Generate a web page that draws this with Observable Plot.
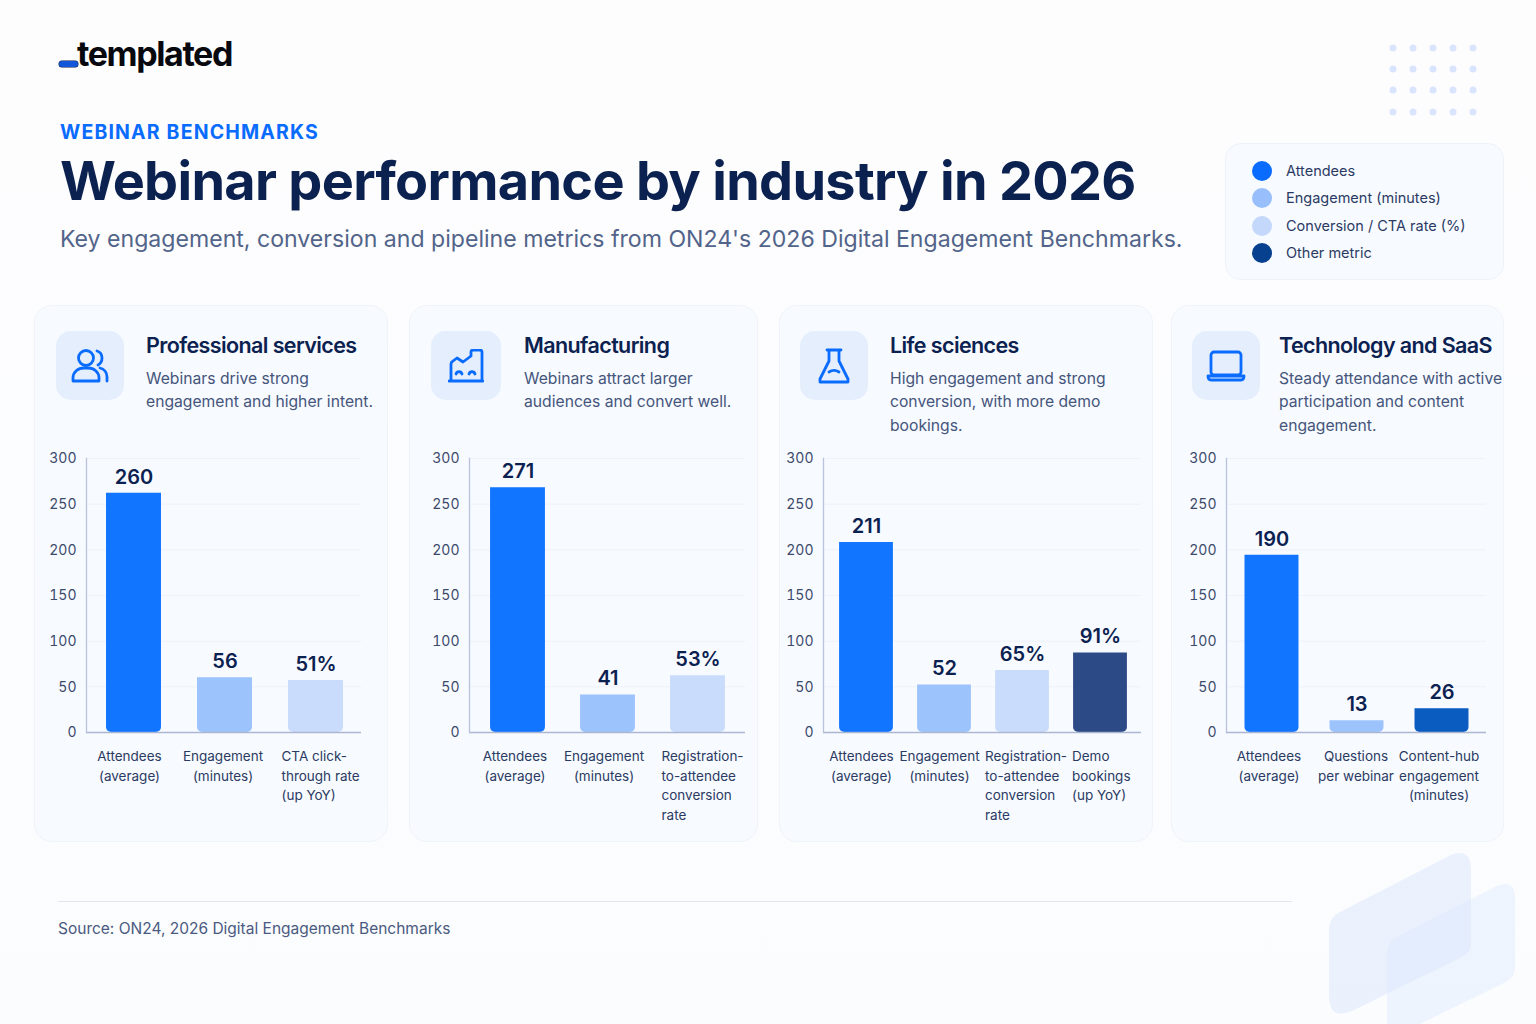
<!DOCTYPE html>
<html lang="en">
<head>
<meta charset="utf-8">
<title>Webinar performance by industry in 2026</title>
<script src="https://cdn.jsdelivr.net/npm/d3@7"></script>
<script src="https://cdn.jsdelivr.net/npm/@observablehq/plot@0.6"></script>
<style>
html,body{margin:0;padding:0;background:#fcfdfe;}
#page{position:relative;width:1536px;height:1024px;overflow:hidden;font-family:Inter,"Noto Sans",sans-serif;
  background:linear-gradient(180deg,#fdfdfe 0%,#fbfcfe 100%);}
#page>*{position:absolute;}
.logo{left:77px;top:33px;font-size:34px;line-height:42px;font-weight:700;letter-spacing:-1.4px;color:#07090f;}
.logobar{left:59px;top:61px;width:19px;height:6px;border-radius:3px;background:#1457d8;box-shadow:0 0 0 .5px #0a1a3c;}
.eyebrow{left:60px;top:120px;font-size:19.5px;line-height:25px;font-weight:700;letter-spacing:1.16px;color:#0a6cff;white-space:nowrap;}
.title{left:60px;top:147px;font-size:54px;line-height:68px;font-weight:700;letter-spacing:-.7px;color:#0b2150;white-space:nowrap;}
.sub{left:60px;top:223px;font-size:23.1px;line-height:32px;font-weight:400;color:#52648a;white-space:nowrap;}
.legend{left:1225px;top:143px;width:279px;height:137px;box-sizing:border-box;border:1px solid #eef3fb;border-radius:16px;background:#f7faff;}
.lg{position:absolute;left:26px;font-size:14.5px;line-height:20px;color:#2b3a63;padding-left:34px;white-space:nowrap;}
.lg i{position:absolute;left:0;top:0;width:20px;height:20px;border-radius:50%;}
.card{box-sizing:border-box;top:305px;height:537px;border:1px solid #eff4fb;border-radius:18px;background:#f7faff;}
.icon{top:331px;height:69px;border-radius:15px;background:#e5eefc;display:flex;align-items:center;justify-content:center;}
.icon svg{fill:none;stroke:#0a6cff;stroke-width:2.8;stroke-linecap:round;stroke-linejoin:round;}
.ct{top:331px;font-size:21.5px;line-height:28px;font-weight:600;letter-spacing:-.6px;color:#0b2150;white-space:nowrap;}
.cd{top:367px;font-size:15.7px;line-height:23.3px;color:#45557b;white-space:pre;}
.plot{top:448px;}
.plot svg{overflow:visible;background:transparent;display:block;}
.srule{left:58px;top:901px;width:1234px;height:1px;background:#dfe6f0;}
.src{left:58px;top:918px;font-size:15.5px;line-height:22px;color:#4a5a80;white-space:nowrap;}
.deco{left:0;top:0;}
</style>
</head>
<body>
<div id="page"></div>
<script>
// ---- chart values ----
const psCategories = ["Attendees\n(average)", "Engagement\n(minutes)", "CTA click-\nthrough rate\n(up YoY)"];
const psMetrics = ["Attendees", "Engagement", "Conversion"];
const psValues = [262, 60, 57];
const psLabels = ["260", "56", "51%"];

const mfCategories = ["Attendees\n(average)", "Engagement\n(minutes)", "Registration-\nto-attendee\nconversion\nrate"];
const mfMetrics = ["Attendees", "Engagement", "Conversion"];
const mfValues = [268, 41, 62];
const mfLabels = ["271", "41", "53%"];

const lsCategories = ["Attendees\n(average)", "Engagement\n(minutes)", "Registration-\nto-attendee\nconversion\nrate", "Demo\nbookings\n(up YoY)"];
const lsMetrics = ["Attendees", "Engagement", "Conversion", "Demo bookings"];
const lsValues = [208, 52, 68, 87];
const lsLabels = ["211", "52", "65%", "91%"];

const tsCategories = ["Attendees\n(average)", "Questions\nper webinar", "Content-hub\nengagement\n(minutes)"];
const tsMetrics = ["Attendees", "Engagement", "Content-hub"];
const tsValues = [194, 13, 26];
const tsLabels = ["190", "13", "26"];

const yTicks = [0, 50, 100, 150, 200, 250, 300];
const metricDomain = ["Attendees", "Engagement", "Conversion", "Demo bookings", "Content-hub"];
const metricColors = ["#1175ff", "#9dc3fd", "#c9dcfb", "#2c4a85", "#0a5cc0"];
const legendNames = ["Attendees", "Engagement (minutes)", "Conversion / CTA rate (%)", "Other metric"];
const legendColors = ["#0a6cff", "#98bffb", "#c3d8fa", "#06408f"];

// ---- layout (page pixels) ----
const panels = [
  {name:"Professional services", desc:"Webinars drive strong\nengagement and higher intent.", cats:psCategories, mets:psMetrics, vals:psValues, labs:psLabels,
   card:[34,388], iconX:[56,124], textX:146, axis:[86,361], band:[88,361], pad:0.396,
   labelDx:[-4.5,-2,-34.5], labelStart:[false,false,true], icon:"people"},
  {name:"Manufacturing", desc:"Webinars attract larger\naudiences and convert well.", cats:mfCategories, mets:mfMetrics, vals:mfValues, labs:mfLabels,
   card:[409,758], iconX:[431,501], textX:524, axis:[469,745], band:[472.5,742.5], pad:0.39,
   labelDx:[-3,-4,-36.5], labelStart:[false,false,true], icon:"factory"},
  {name:"Life sciences", desc:"High engagement and strong\nconversion, with more demo\nbookings.", cats:lsCategories, mets:lsMetrics, vals:lsValues, labs:lsLabels,
   card:[779,1153], iconX:[800,868], textX:890, axis:[823,1141], band:[827,1139], pad:0.31,
   labelDx:[-5,-5,-37.5,-28.5], labelStart:[false,false,true,true], icon:"flask"},
  {name:"Technology and SaaS", desc:"Steady attendance with active\nparticipation and content\nengagement.", cats:tsCategories, mets:tsMetrics, vals:tsValues, labs:tsLabels,
   card:[1171,1504], iconX:[1192,1260], textX:1279, axis:[1226,1486], band:[1229,1484], pad:0.365,
   labelDx:[-3,-1,-3], labelStart:[false,false,false], icon:"laptop"}
];

const icons = {
  people:`<svg width="38" height="36" viewBox="0 0 38 36"><circle cx="15" cy="10" r="7.5"/><path d="M26 3c3.6 1.200 5 4 5 7s-1.400 5.600-4 7"/><path d="M2 33v-3c0-6 5-10 11-10h4c6 0 11 4 11 10v3z"/><path d="M29 20c4 1 7 4.500 7 9v4"/></svg>`,
  factory:`<svg width="36" height="34" viewBox="0 0 36 34"><path d="M3 32V15q0-2 2-3l4-3 6 4 8-6M23 7V3a2 2 0 0 1 2-2h7a2 2 0 0 1 2 2v29M1 32h34"/><path d="M8 25c1-3 5-3 6 0M21 25c1-3 5-3 6 0"/></svg>`,
  flask:`<svg width="32" height="36" viewBox="0 0 32 36"><path d="M9 2h14M11 2v11L2 31v3h28v-3L21 13V2"/><path d="M11 24c3-2 7-2 10 0"/></svg>`,
  laptop:`<svg width="40" height="32" viewBox="0 0 40 32"><rect x="5" y="2" width="30" height="23" rx="3"/><path d="M2 26h36c0 3-1 4-3 4H5c-2 0-3-1-3-4z"/></svg>`
};

const page = document.getElementById("page");
function el(cls, style, html){
  const d = document.createElement("div");
  d.className = cls;
  Object.assign(d.style, style || {});
  if (html != null) d.innerHTML = html;
  page.appendChild(d);
  return d;
}

// decoration
const dotsX = [1393, 1413, 1433, 1453, 1473], dotsY = [48, 69, 90, 112];
let deco = `<svg class="d" width="1536" height="1024" xmlns="http://www.w3.org/2000/svg">`;
for (const y of dotsY) for (const x of dotsX) deco += `<circle cx="${x}" cy="${y}" r="3.5" fill="#d9e4fd"/>`;
deco += `<path d="M1340 912 L1451 855 Q1471 847 1471 870 L1471 945 Q1471 952 1462 957 L1352 1011 Q1329 1021 1329 995 L1329 930 Q1329 917 1340 912Z" fill="#dce8fc" fill-opacity=".55"/>`;
deco += `<path d="M1398 936 L1497 886 Q1515 879 1515 898 L1515 968 Q1515 977 1506 982 L1420 1024 L1387 1024 L1387 953 Q1387 941 1398 936Z" fill="#dce8fc" fill-opacity=".4"/>`;
deco += `</svg>`;
el("deco", {}, deco);

// header
el("logo", {}, "templated");
el("logobar");
el("eyebrow", {}, "WEBINAR BENCHMARKS");
el("title", {}, "Webinar performance by industry in 2026");
el("sub", {}, "Key engagement, conversion and pipeline metrics from ON24's 2026 Digital Engagement Benchmarks.");

// legend
const lg = el("legend");
legendNames.forEach((n, i) => {
  const r = document.createElement("div");
  r.className = "lg";
  r.style.top = (17 + i * 27.4) + "px";
  r.innerHTML = `<i style="background:${legendColors[i]}"></i>${n}`;
  lg.appendChild(r);
});

// cards
const plotTop = 448, plotH = 385, baseY = 732, topY = 458;
for (const p of panels) {
  const [cl, cr] = p.card;
  el("card", {left: cl + "px", width: (cr - cl) + "px"});
  el("icon", {left: p.iconX[0] + "px", width: (p.iconX[1] - p.iconX[0]) + "px"}, icons[p.icon]);
  el("ct", {left: p.textX + "px"}, p.name);
  el("cd", {left: p.textX + "px"}).textContent = p.desc;

  const rows = p.cats.map((c, i) => ({cat: c, metric: p.mets[i], value: p.vals[i], label: p.labs[i], dx: p.labelDx[i], start: p.labelStart[i]}));
  const width = cr - cl;
  const labelMarks = rows.map(r => Plot.text([r], {
    x: "cat", text: "cat", frameAnchor: "bottom", lineAnchor: "top",
    textAnchor: r.start ? "start" : "middle", dx: r.dx, dy: 15, lineHeight: 1.44,
    fontSize: 13.5, fill: "#2b3a63"
  }));
  const chart = Plot.plot({
    width, height: plotH,
    marginTop: topY - plotTop, marginBottom: plotTop + plotH - baseY,
    marginLeft: p.axis[0] - cl, marginRight: cr - p.axis[1],
    style: {fontFamily: "Inter, sans-serif", background: "transparent", overflow: "visible"},
    x: {type: "band", domain: p.cats, range: [p.band[0] - cl, p.band[1] - cl], paddingInner: p.pad, paddingOuter: p.pad / 2, axis: null, round: false},
    y: {domain: [0, 300], ticks: yTicks, axis: null},
    color: {type: "ordinal", domain: metricDomain, range: metricColors},
    marks: [
      Plot.gridY(yTicks.filter(t => t > 0), {stroke: "#eef2fa", strokeOpacity: 1}),
      Plot.barY(rows, {x: "cat", y: "value", fill: "metric", ry2: 5, rx: 0}),
      Plot.ruleY([0], {stroke: "#aab6d2", strokeWidth: 1.3}),
      Plot.frame({anchor: "left", stroke: "#b9c3d9", strokeWidth: 1.3}),
      Plot.axisY({ticks: yTicks, tickSize: 0, tickPadding: 10, label: null, fontSize: 14, color: "#3d4a6b", anchor: "left", dy: 0.5}),
      Plot.text(rows, {x: "cat", y: "value", text: "label", dy: -16, fontSize: 20, fontWeight: 600, fill: "#0b2150"}),
      ...labelMarks
    ]
  });
  const host = el("plot", {left: cl + "px"});
  host.appendChild(chart);
}

// footer
el("srule");
el("src", {}, "Source: ON24, 2026 Digital Engagement Benchmarks");
</script>
</body>
</html>
